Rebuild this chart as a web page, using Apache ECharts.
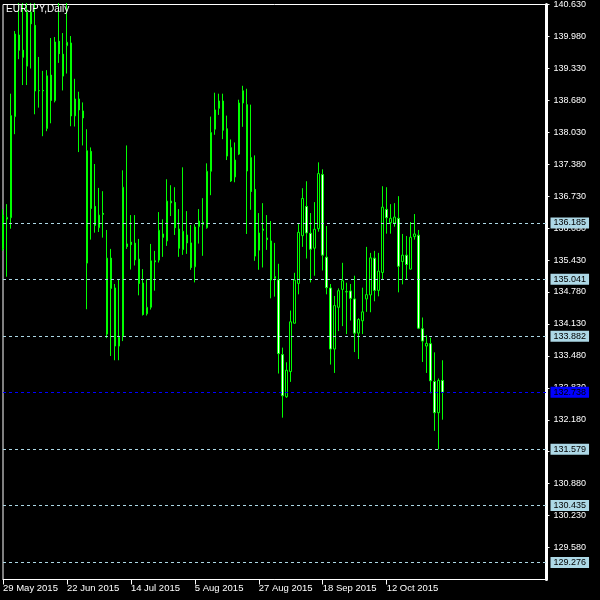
<!DOCTYPE html>
<html><head><meta charset="utf-8">
<script src="https://cdn.jsdelivr.net/npm/echarts@6/dist/echarts.min.js"></script>
<style>html,body{margin:0;padding:0;background:#000;}#c{width:600px;height:600px;}</style>
</head><body><div id="c"></div>
<script>
const symbolTitle = 'EURJPY,Daily';
const firstDate = [2015, 5, 29];
const totalSlots = 137;

const opens = [135.657,136.264,136.291,138.349,140.009,139.699,139.375,140.474,140.205,138.875,
138.881,138.106,139.193,138.673,139.881,139.618,139.792,139.847,138.363,138.707,
138.464,135.368,137.641,136.521,136.088,136.380,133.923,135.469,134.862,133.680,
133.882,135.758,135.793,135.773,135.449,134.963,134.336,134.469,135.414,135.429,
135.961,135.819,136.629,136.602,136.062,135.643,135.941,135.779,135.293,136.109,
136.198,136.088,137.236,138.092,138.517,138.667,138.100,137.716,137.121,137.586,
138.626,138.592,137.513,136.866,135.631,136.062,135.880,135.819,135.091,135.030,
133.506,132.648,133.162,134.145,134.955,135.926,136.521,135.975,135.671,136.068,
137.169,135.489,134.862,133.619,134.469,134.833,134.787,134.801,134.639,133.943,
134.194,134.639,134.720,135.469,134.813,135.178,136.461,136.190,136.183,136.279,
135.400,135.530,135.246,135.906,135.935,134.032,133.680,133.729,132.959,132.324,
132.980];
const closes = [136.345,136.299,138.369,140.029,139.699,139.557,140.474,140.237,138.869,138.880,
138.875,139.179,138.679,139.867,139.630,139.173,139.861,138.363,138.707,138.485,
138.323,137.655,136.481,136.137,136.345,136.360,135.469,134.854,133.680,133.862,
136.912,135.704,135.744,135.435,134.955,134.322,134.469,135.414,135.394,136.036,
135.894,136.629,136.594,136.088,135.671,136.016,135.779,135.279,136.103,136.224,
136.157,137.236,138.025,138.485,138.667,138.072,137.546,137.040,137.465,138.626,
138.875,137.242,136.825,135.510,135.981,136.036,135.846,135.024,135.060,133.526,
132.668,133.188,134.174,135.024,135.995,136.683,135.981,135.651,136.056,137.189,
135.530,134.868,133.619,134.504,134.807,135.010,134.781,134.651,133.943,134.220,
134.376,134.726,135.475,134.813,135.206,136.507,136.291,136.279,136.305,135.303,
135.530,135.340,135.894,135.961,134.044,133.781,133.735,132.972,132.324,132.980,
132.738];
const highs = [136.467,136.568,138.815,140.090,140.66,140.66,140.66,140.66,140.66,139.563,
139.280,139.294,139.948,139.968,140.66,140.049,140.66,139.988,139.118,138.855,
138.638,138.092,137.722,137.384,136.898,136.831,136.042,135.657,134.943,135.036,
137.256,137.762,136.345,136.345,135.860,135.246,135.044,135.758,135.617,136.406,
136.258,137.074,136.953,136.912,136.467,137.317,136.426,136.143,136.157,136.467,
136.689,137.398,138.349,138.835,138.815,138.815,138.369,137.884,137.823,138.693,
138.976,138.916,138.592,137.560,136.386,136.588,136.345,136.224,135.779,135.354,
133.648,133.350,134.402,135.171,136.169,136.892,137.034,136.386,136.609,137.418,
137.276,136.123,134.943,134.700,134.854,135.374,134.969,134.943,135.111,134.247,
134.868,135.698,135.576,135.617,135.576,136.932,136.912,136.568,136.588,136.730,
135.961,135.920,136.204,136.366,136.042,134.261,133.896,133.850,133.552,133.020,
133.391];
const lows = [135.617,135.091,136.068,137.991,139.517,138.991,138.991,139.327,138.396,138.531,
137.950,138.052,138.213,138.638,139.442,138.881,139.225,138.153,138.147,137.627,
137.762,134.429,135.846,135.987,136.001,135.886,133.842,133.478,133.391,133.391,
133.781,135.657,135.238,135.319,134.712,134.301,134.301,134.423,134.807,135.380,
135.495,135.718,136.325,135.941,135.495,135.536,135.556,135.232,134.975,135.765,
135.516,136.068,136.750,137.979,138.383,137.890,137.465,137.019,137.013,137.566,
138.141,135.961,136.453,135.414,135.232,135.279,135.637,134.651,134.686,133.121,
132.223,132.627,132.951,134.139,134.732,135.698,135.461,134.975,135.111,136.007,
135.218,134.732,133.303,133.133,133.984,134.085,133.923,134.200,133.558,133.417,
133.923,134.376,134.368,134.591,134.692,135.024,135.967,135.967,136.109,134.773,
134.935,135.036,135.238,135.846,134.024,133.356,133.133,132.717,131.954,131.579,
132.182];

const levelLines = [136.185, 135.041, 133.882, 131.579, 130.435, 129.276];
const bidPrice = 132.738;
const yMin = 128.93, yMax = 140.63, yStep = 0.65;
const labelEvery = 16, lastLabelIndex = 96;

const monthNames = ['Jan','Feb','Mar','Apr','May','Jun','Jul','Aug','Sep','Oct','Nov','Dec'];
const categories = [];
let d = new Date(Date.UTC(firstDate[0], firstDate[1]-1, firstDate[2]));
while (categories.length < totalSlots) {
  const wd = d.getUTCDay();
  if (wd !== 0 && wd !== 6) categories.push(d.getUTCDate() + ' ' + monthNames[d.getUTCMonth()] + ' ' + d.getUTCFullYear());
  d = new Date(d.getTime() + 86400000);
}
const candles = opens.map((o, i) => [o, closes[i], lows[i], highs[i]]);
const showIdx = (i) => i % labelEvery === 0 && i <= lastLabelIndex;
const font = '"Liberation Sans", Arial, sans-serif';

const levelData = levelLines.map(v => ({
  yAxis: v,
  lineStyle: { color: '#ADD8E6', type: [3, 3], width: 1 },
  label: { backgroundColor: '#ADD8E6', color: '#000', formatter: v.toFixed(3) }
}));
levelData.push({
  yAxis: bidPrice,
  lineStyle: { color: '#0000FF', type: [3, 3], width: 1 },
  label: { backgroundColor: '#0000FF', color: '#000', formatter: bidPrice.toFixed(3) }
});

const chart = echarts.init(document.getElementById('c'), null, { renderer: 'canvas' });
chart.setOption({
  backgroundColor: '#000',
  animation: false,
  title: {
    text: symbolTitle, left: 6, top: 4, padding: 0,
    textStyle: { color: '#fff', fontSize: 10, fontWeight: 'normal', fontFamily: font }
  },
  grid: { left: 2.5, top: 2.5, width: 544, height: 577, show: true, borderColor: '#fff', borderWidth: 1 },
  xAxis: {
    type: 'category', data: categories, boundaryGap: false,
    axisLine: { show: true, lineStyle: { color: '#fff' } },
    axisTick: { show: true, length: 5, interval: showIdx, lineStyle: { color: '#fff' } },
    axisLabel: { interval: showIdx, color: '#fff', fontSize: 9.5, fontFamily: font, align: 'left', margin: 4 },
    splitLine: { show: false }
  },
  yAxis: {
    type: 'value', position: 'right', min: yMin, max: yMax, interval: yStep,
    axisLine: { show: true, lineStyle: { color: '#fff', width: 3 } },
    axisTick: { show: true, length: 3, lineStyle: { color: '#fff' } },
    axisLabel: { color: '#fff', fontSize: 9, fontFamily: font, margin: 7, showMinLabel: false,
      formatter: v => v.toFixed(3) },
    splitLine: { show: false }
  },
  series: [
    {
      type: 'candlestick', data: candles, barWidth: 2, clip: true,
      itemStyle: { color: '#000', color0: '#fff', borderColor: '#00ff00', borderColor0: '#00ff00',
        borderColorDoji: '#00ff00', borderWidth: 1 }
    },
    {
      type: 'line', data: [], clip: false, silent: true,
      markLine: {
        silent: true, symbol: 'none', animation: false, precision: 3,
        label: { position: 'end', distance: 4, fontSize: 9, fontFamily: font, padding: [1, 3, 0, 3],
          lineHeight: 10 },
        emphasis: { disabled: true },
        data: levelData
      }
    }
  ]
});
</script></body></html>
